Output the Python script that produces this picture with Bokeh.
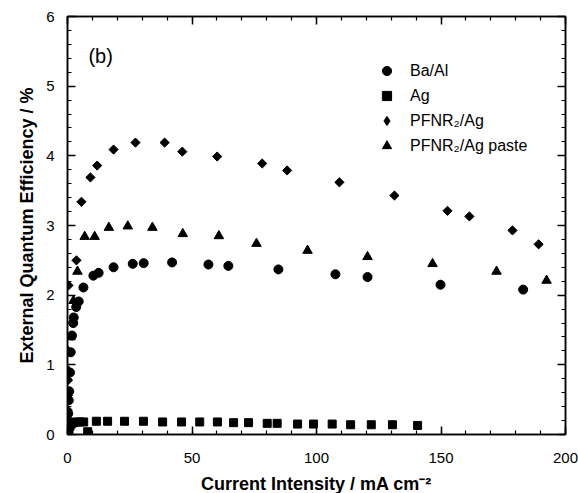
import math
from bokeh.plotting import figure
from bokeh.models import (LinearAxis, SingleIntervalTicker, Legend, LegendItem, Range1d, Label,
                          CustomLabelingPolicy)
from bokeh.embed import file_html
from bokeh.resources import INLINE

# ---- data ----
baal_x = [0.05, 0.1, 0.15, 0.2, 0.3, 0.5, 0.7, 1.0, 1.3, 1.8, 2.3, 2.5, 3.5, 4.5,
          6.4, 10.4, 12.5, 18.5, 26.2, 30.6, 42.0, 56.6, 64.6, 84.7, 107.6, 120.5, 149.8, 183.0]
baal_y = [0.02, 0.06, 0.12, 0.2, 0.30, 0.49, 0.62, 0.89, 1.18, 1.42, 1.60, 1.68, 1.83, 1.91,
          2.11, 2.28, 2.32, 2.40, 2.45, 2.46, 2.47, 2.44, 2.42, 2.37, 2.30, 2.26, 2.15, 2.08]

ag_x = [0.1, 0.3, 0.6, 1.0, 1.5, 2.5, 3.5, 5.0, 6.5, 8.1,
        11.6, 16.1, 22.9, 30.5, 38.2, 45.8, 53.1, 60.2, 66.7, 72.7, 80.2, 84.2,
        92.4, 98.8, 106.3, 113.7, 122.0, 130.5, 140.6]
ag_y = [0.02, 0.05, 0.08, 0.12, 0.15, 0.17, 0.18, 0.18, 0.18, 0.04,
        0.19, 0.19, 0.19, 0.19, 0.18, 0.18, 0.18, 0.18, 0.17, 0.17, 0.16, 0.16,
        0.15, 0.15, 0.15, 0.14, 0.14, 0.14, 0.13]

pfn_x = [0.02, 0.05, 0.1, 0.15, 0.2, 0.3, 0.4, 3.6,
         5.6, 9.2, 11.9, 18.5, 27.3, 39.0, 46.1, 60.1, 78.2, 88.2,
         109.2, 131.3, 152.6, 161.4, 178.7, 189.2]
pfn_y = [0.03, 0.15, 0.35, 0.56, 0.78, 1.2, 2.14, 2.50,
         3.34, 3.69, 3.86, 4.09, 4.19, 4.19, 4.06, 3.99, 3.89, 3.79,
         3.62, 3.43, 3.21, 3.13, 2.93, 2.73]

paste_x = [0.05, 0.1, 0.3, 0.6, 1.2, 2.4, 4.0,
           6.9, 10.9, 16.6, 24.2, 34.1, 46.3, 60.8, 75.9, 96.4, 120.5, 146.6, 172.3, 192.4]
paste_y = [0.05, 0.2, 0.5, 0.9, 1.4, 1.92, 2.34,
           2.84, 2.84, 2.97, 2.99, 2.97, 2.88, 2.85, 2.74, 2.64, 2.55, 2.45, 2.34, 2.21]

labels = ["Ba/Al", "Ag", "PFNR\u2082/Ag", "PFNR\u2082/Ag paste"]

FONT = "Liberation Sans"

p = figure(frame_width=498, frame_height=418, output_backend="svg", toolbar_location=None,
           x_range=Range1d(0, 200), y_range=Range1d(0, 6),
           min_border_left=67, min_border_right=13, min_border_top=16, min_border_bottom=50,
           background_fill_color="white", border_fill_color="white")
p.xgrid.visible = False
p.ygrid.visible = False
p.outline_line_color = "black"
p.outline_line_width = 1.5

r1 = p.scatter(baal_x, baal_y, marker="circle", size=9, color="black")
r2 = p.scatter(ag_x, ag_y, marker="square", size=8, color="black")
r3 = p.scatter(pfn_x, pfn_y, marker="square", size=6.5, angle=math.pi / 4, color="black")
# hidden twin renderer: only used so the legend shows a diamond shape
r3_leg = p.scatter(pfn_x, pfn_y, marker="diamond", size=9, color="black", visible=False)
r4 = p.scatter(paste_x, paste_y, marker="triangle", size=9.5, color="black")

no_labels = CustomLabelingPolicy(code="return new Set()")

def style(ax, show_labels):
    ax.axis_line_color = "black"
    ax.axis_line_width = 1.5
    ax.major_tick_line_width = 1.5
    ax.minor_tick_line_width = 1.2
    ax.major_tick_in = 8
    ax.major_tick_out = 0
    ax.minor_tick_in = 4
    ax.minor_tick_out = 0
    if show_labels:
        ax.major_label_text_font = FONT
        ax.major_label_text_font_size = "15px"
        ax.major_label_text_color = "black"
        ax.axis_label_text_font = FONT
        ax.axis_label_text_font_size = "18px"
        ax.axis_label_text_font_style = "bold"
        ax.axis_label_text_color = "black"
    else:
        ax.major_label_policy = no_labels
        ax.major_label_standoff = 0
        ax.axis_label = None

p.xaxis.ticker = SingleIntervalTicker(interval=50, num_minor_ticks=5)
p.yaxis.ticker = SingleIntervalTicker(interval=1, num_minor_ticks=5)
p.xaxis.axis_label = "Current Intensity / mA cm\u207b\u00b2"
p.yaxis.axis_label = "External Quantum Efficiency / %"
style(p.xaxis[0], True)
style(p.yaxis[0], True)
p.xaxis.major_label_standoff = 18
p.yaxis.major_label_standoff = 13
p.xaxis.axis_label_standoff = 8
p.yaxis.axis_label_standoff = 6

top = LinearAxis(ticker=SingleIntervalTicker(interval=50, num_minor_ticks=5))
right = LinearAxis(ticker=SingleIntervalTicker(interval=1, num_minor_ticks=5))
style(top, False)
style(right, False)
p.add_layout(top, "above")
p.add_layout(right, "right")

p.add_layout(Label(x=8.4, y=5.27, text="(b)", text_font=FONT, text_font_size="20px",
                   text_color="black"))

legend = Legend(items=[LegendItem(label=labels[0], renderers=[r1]),
                       LegendItem(label=labels[1], renderers=[r2]),
                       LegendItem(label=labels[2], renderers=[r3_leg]),
                       LegendItem(label=labels[3], renderers=[r4])],
                location=(308, 277), padding=0, margin=0, spacing=2,
                label_height=20, glyph_height=23, glyph_width=23, label_standoff=12,
                label_text_font=FONT, label_text_font_size="16px", label_text_color="black",
                border_line_color=None, background_fill_alpha=0)
p.add_layout(legend)

open("out.html", "w").write(file_html(p, INLINE))
